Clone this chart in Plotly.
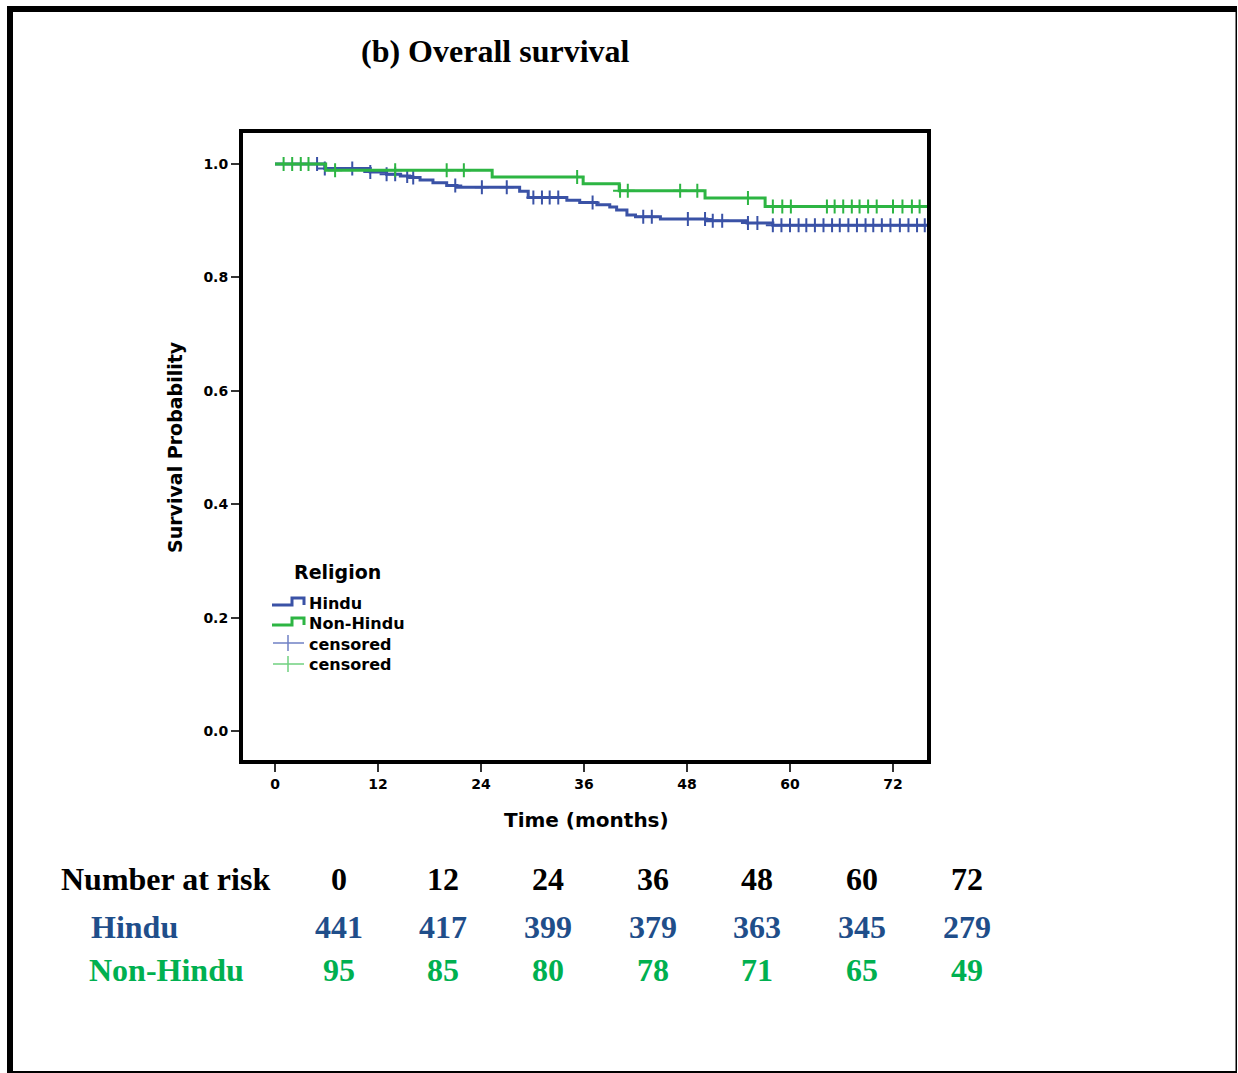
import numpy as np
import plotly.graph_objects as go

# ---------------- data ----------------
hindu_time = [0, 5.8, 11.1, 13.0, 14.6, 15.7, 16.9, 18.4, 20.0, 21.2, 28.5, 29.5,
              34.0, 35.5, 37.5, 39.0, 39.8, 41.0, 42.0, 44.9, 50.3, 55.0, 58.0]
hindu_surv = [1.0, 0.992, 0.986, 0.982, 0.979, 0.976, 0.972, 0.967, 0.962, 0.959, 0.952, 0.941,
              0.936, 0.932, 0.928, 0.924, 0.919, 0.910, 0.907, 0.903, 0.900, 0.896, 0.892]
hindu_censor = [4.9, 5.8, 9.0, 11.1, 13.0, 14.0, 15.4, 16.1, 21.0, 24.1, 27.0, 30.1, 31.1,
                32.0, 33.0, 37.0, 42.9, 43.9, 48.1, 50.1, 51.0, 52.1, 55.1, 56.2, 58.0, 59.0,
                60.0, 61.0, 61.9, 62.9, 63.9, 64.9, 65.8, 66.8, 67.8, 68.8, 69.7, 70.7, 71.7,
                72.8, 73.8, 74.8, 75.7]

nonhindu_time = [0, 5.9, 25.3, 35.9, 40.1, 50.1, 57.1]
nonhindu_surv = [1.0, 0.989, 0.977, 0.965, 0.953, 0.940, 0.925]
nonhindu_censor = [1.0, 2.0, 3.0, 3.9, 7.0, 14.0, 20.0, 22.0, 35.2, 40.2, 41.1, 47.2, 49.2,
                   55.1, 58.0, 59.1, 60.1, 64.3, 65.2, 66.2, 67.2, 68.1, 69.1, 70.1, 72.0,
                   73.1, 74.2, 75.1]
followup_end = 76.0

x_ticks = [0, 12, 24, 36, 48, 60, 72]
y_ticks = [0.0, 0.2, 0.4, 0.6, 0.8, 1.0]
y_ticklabels = ["0.0", "0.2", "0.4", "0.6", "0.8", "1.0"]

risk_times = ["0", "12", "24", "36", "48", "60", "72"]
risk_hindu = [441, 417, 399, 379, 363, 345, 279]
risk_nonhindu = [95, 85, 80, 78, 71, 65, 49]

# ---------------- styling ----------------
W, H = 1238, 1073
BLUE = "#3a52a6"
GREEN = "#2db543"
BLUE_LIGHT = "#6f80c4"
GREEN_LIGHT = "#6fd07f"
TXT_BLUE = "#1f4e8a"
TXT_GREEN = "#00b050"
SANS = "DejaVu Sans"
SERIF = "Liberation Serif"


def px(x):
    return x / W


def py(y):
    return 1 - y / H


def step_value(times, surv, t):
    idx = np.searchsorted(np.array(times), np.array(t), side="right") - 1
    return np.array(surv)[idx]


fig = go.Figure()

for times, surv, cens, col in [(hindu_time, hindu_surv, hindu_censor, BLUE),
                               (nonhindu_time, nonhindu_surv, nonhindu_censor, GREEN)]:
    fig.add_trace(go.Scatter(
        x=list(times) + [followup_end], y=list(surv) + [surv[-1]],
        mode="lines", line=dict(color=col, width=3, shape="hv"),
        showlegend=False, hoverinfo="skip"))
    fig.add_trace(go.Scatter(
        x=cens, y=step_value(times, surv, cens), mode="markers",
        marker=dict(symbol="cross-thin", size=10, line=dict(color=col, width=2)),
        showlegend=False, hoverinfo="skip"))

x0, x1, y0, y1 = 243, 927, 133, 760
fig.update_layout(
    width=W, height=H, margin=dict(l=0, r=0, t=0, b=0),
    paper_bgcolor="white", plot_bgcolor="white",
    xaxis=dict(domain=[px(x0), px(x1)], range=[-3.73, 75.96], tickvals=x_ticks,
               ticks="outside", ticklen=8, tickwidth=2, tickcolor="#333",
               showline=True, linewidth=4, linecolor="black", mirror=True,
               showgrid=False, zeroline=False,
               tickfont=dict(family=SANS, size=14, color="black", weight="bold")),
    yaxis=dict(domain=[py(y1), py(y0)], range=[-0.0511, 1.0547], tickvals=y_ticks,
               ticktext=y_ticklabels,
               ticks="outside", ticklen=8, tickwidth=2, tickcolor="#333",
               showline=True, linewidth=4, linecolor="black", mirror=True,
               showgrid=False, zeroline=False,
               tickfont=dict(family=SANS, size=14, color="black", weight="bold")),
)

ann = []
ann.append(dict(text="(b) Overall survival", x=px(495), y=py(51), xref="paper", yref="paper",
                showarrow=False, xanchor="center", yanchor="middle",
                font=dict(family=SERIF, size=32, color="black", weight="bold")))
ann.append(dict(text="Time (months)", x=px(586), y=py(820), xref="paper", yref="paper",
                showarrow=False, xanchor="center", yanchor="middle",
                font=dict(family=SANS, size=20, color="black", weight="bold")))
ann.append(dict(text="Survival Probability", x=px(175), y=py(447), xref="paper", yref="paper",
                showarrow=False, xanchor="center", yanchor="middle", textangle=-90,
                font=dict(family=SANS, size=19, color="black", weight="bold")))

# legend (manual)
ann.append(dict(text="Religion", x=px(292), y=py(572), xref="paper", yref="paper",
                showarrow=False, xanchor="left", yanchor="middle",
                font=dict(family=SANS, size=19, color="black", weight="bold")))
leg_labels = ["Hindu", "Non-Hindu", "censored", "censored"]
leg_y = [603, 623, 644, 664]
for lab, yy in zip(leg_labels, leg_y):
    ann.append(dict(text=lab, x=px(307), y=py(yy), xref="paper", yref="paper",
                    showarrow=False, xanchor="left", yanchor="middle",
                    font=dict(family=SANS, size=16, color="black", weight="bold")))

shapes = []
for col, yy in [(BLUE, 605), (GREEN, 625)]:
    path = "M {} {} L {} {} L {} {} L {} {} L {} {}".format(
        px(272), py(yy), px(292), py(yy), px(292), py(yy - 7), px(304), py(yy - 7), px(304), py(yy))
    shapes.append(dict(type="path", path=path, xref="paper", yref="paper",
                       line=dict(color=col, width=3)))
for col, yy in [(BLUE_LIGHT, 643), (GREEN_LIGHT, 664)]:
    shapes.append(dict(type="line", xref="paper", yref="paper", x0=px(273), x1=px(304),
                       y0=py(yy), y1=py(yy), line=dict(color=col, width=1.5)))
    shapes.append(dict(type="line", xref="paper", yref="paper", x0=px(288), x1=px(288),
                       y0=py(yy - 8), y1=py(yy + 8), line=dict(color=col, width=1.5)))

# number at risk table
col_x = [339, 443, 548, 653, 757, 862, 967]
ann.append(dict(text="Number at risk", x=px(59), y=py(879), xref="paper", yref="paper",
                showarrow=False, xanchor="left", yanchor="middle",
                font=dict(family=SERIF, size=32, color="black", weight="bold")))
ann.append(dict(text="Hindu", x=px(89), y=py(927), xref="paper", yref="paper",
                showarrow=False, xanchor="left", yanchor="middle",
                font=dict(family=SERIF, size=32, color=TXT_BLUE, weight="bold")))
ann.append(dict(text="Non-Hindu", x=px(87), y=py(970), xref="paper", yref="paper",
                showarrow=False, xanchor="left", yanchor="middle",
                font=dict(family=SERIF, size=32, color=TXT_GREEN, weight="bold")))
for cx, t, h, n in zip(col_x, risk_times, risk_hindu, risk_nonhindu):
    ann.append(dict(text=t, x=px(cx), y=py(879), xref="paper", yref="paper", showarrow=False,
                    xanchor="center", yanchor="middle",
                    font=dict(family=SERIF, size=32, color="black", weight="bold")))
    ann.append(dict(text=str(h), x=px(cx), y=py(927), xref="paper", yref="paper", showarrow=False,
                    xanchor="center", yanchor="middle",
                    font=dict(family=SERIF, size=32, color=TXT_BLUE, weight="bold")))
    ann.append(dict(text=str(n), x=px(cx), y=py(970), xref="paper", yref="paper", showarrow=False,
                    xanchor="center", yanchor="middle",
                    font=dict(family=SERIF, size=32, color=TXT_GREEN, weight="bold")))

# outer frame
frame = [(7, 6, 13, 1073), (7, 6, 1237, 12), (1235.5, 6, 1237, 1073), (7, 1071, 1237, 1073)]
for a, b, c, d in frame:
    shapes.append(dict(type="rect", xref="paper", yref="paper", x0=px(a), x1=px(c),
                       y0=py(d), y1=py(b), fillcolor="black", line=dict(width=0)))

fig.update_layout(annotations=ann, shapes=shapes)
fig.write_html("out.html")
